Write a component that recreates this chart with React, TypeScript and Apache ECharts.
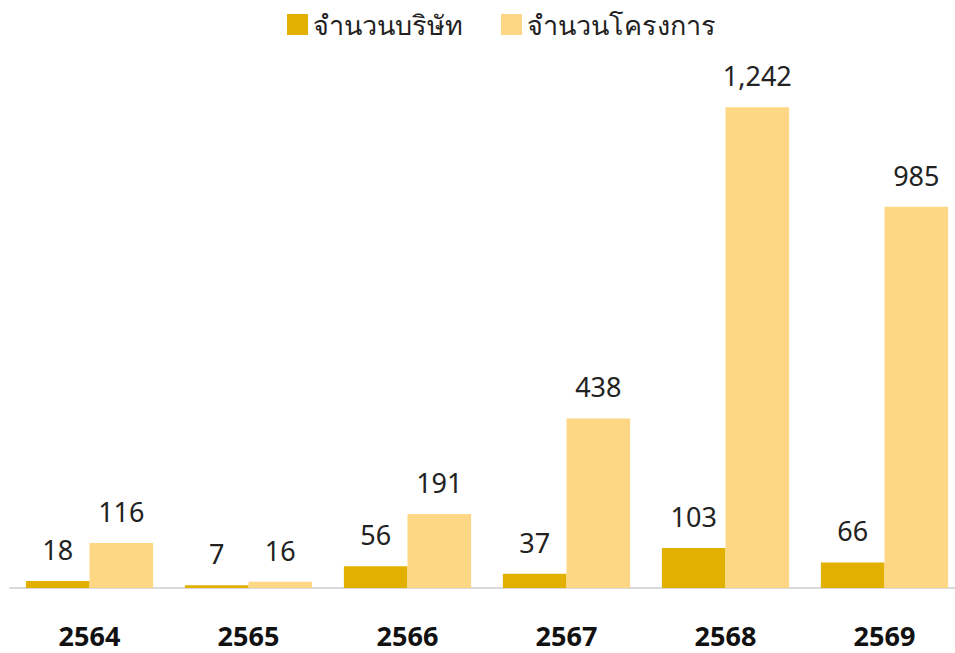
import React, { useEffect, useRef } from "react";
import * as echarts from "echarts";

const years = ["2564", "2565", "2566", "2567", "2568", "2569"];
const companies = [18, 7, 56, 37, 103, 66];
const projects = [116, 16, 191, 438, 1242, 985];
const seriesNames = ["จำนวนบริษัท", "จำนวนโครงการ"];

const FONT = "'Noto Sans', 'DejaVu Sans', sans-serif";

export default function App() {
  const ref = useRef<HTMLDivElement>(null);
  useEffect(() => {
    if (!ref.current) return;
    const chart = echarts.init(ref.current, null, { renderer: "svg" });
    const fmt = (p: any) => Number(p.value).toLocaleString("en-US");
    const label = {
      show: true,
      position: "top",
      distance: 18,
      color: "#222",
      fontSize: 27,
      fontFamily: FONT,
      formatter: fmt,
    };
    chart.setOption({
      animation: false,
      legend: {
        left: 282,
        top: 6,
        itemWidth: 21,
        itemHeight: 21,
        itemGap: 38,
        icon: "rect",
        textStyle: { fontSize: 27, color: "#222", fontFamily: FONT },
        data: seriesNames,
      },
      grid: { left: 10, right: 1, top: 46, height: 542, containLabel: false },
      xAxis: {
        type: "category",
        data: years,
        axisLine: { lineStyle: { color: "#D9D9D9", width: 2 } },
        axisTick: { show: false },
        axisLabel: {
          margin: 34,
          fontSize: 27,
          fontWeight: "bold",
          color: "#111",
          fontFamily: FONT,
        },
      },
      yAxis: {
        type: "value",
        min: 0,
        max: 1400,
        show: false,
        splitLine: { show: false },
      },
      series: [
        {
          name: seriesNames[0],
          type: "bar",
          data: companies,
          barGap: "0%",
          barCategoryGap: "20%",
          itemStyle: { color: "#E2B000" },
          label,
        },
        {
          name: seriesNames[1],
          type: "bar",
          data: projects,
          barGap: "0%",
          barCategoryGap: "20%",
          itemStyle: { color: "#FED784" },
          label,
        },
      ],
    });
    return () => chart.dispose();
  }, []);
  return (
    <div style={{ width: 955, height: 653, position: "absolute", left: 0, top: 0, overflow: "hidden" }}>
      <div ref={ref} style={{ width: 965, height: 653 }} />
    </div>
  );
}
